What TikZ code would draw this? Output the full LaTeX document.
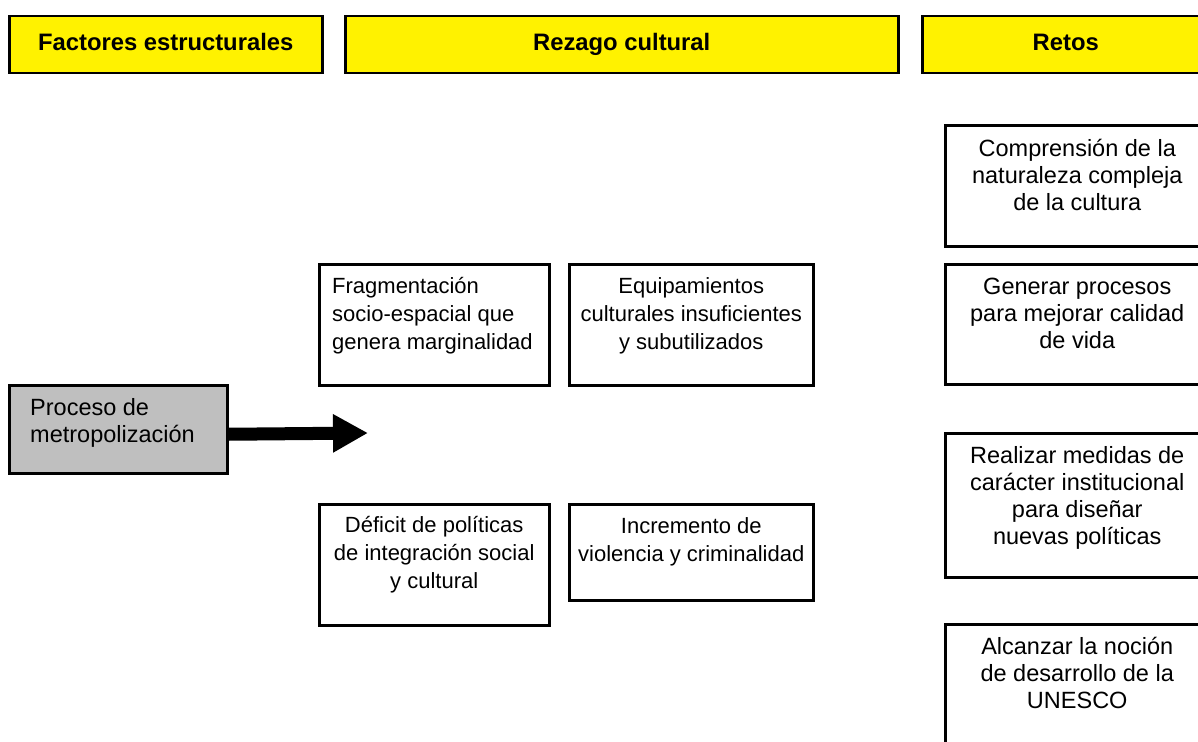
\documentclass[tikz,border=0pt]{standalone}
\usepackage{fontspec}
\setmainfont{Liberation Sans}
\usetikzlibrary{arrows.meta}
\tikzset{every picture/.append style={x=1pt, y=-1pt}}
\tikzset{
    hdr/.style={draw, line width=2.5pt, fill=yellow, anchor=north west,
    	minimum height=57pt, text height=17pt, text depth=5pt,
    	font=\bfseries\fontsize{23.8}{27}\selectfont},
    box/.style={draw, line width=2.5pt, anchor=north west, inner sep=0pt},
    txt/.style={anchor=north, inner sep=0pt, align=center,
    	font=\fontsize{23.5}{27}\selectfont},
    midtxt/.style={txt, font=\fontsize{22}{28}\selectfont},
    bigarrow/.style={line width=13pt, -{Triangle[length=35pt, width=36pt]}}
}

\begin{document}
\begin{tikzpicture}
	\clip (0,0) rectangle (1198,741);
	\node [hdr, minimum width=313pt] (fac) at (8,15) {Factores estructurales};
	\node [hdr, minimum width=553pt] (rez) at (344,15) {Rezago cultural};
	\node [hdr, minimum width=287pt] (ret) at (921,15) {Retos};
	\node [box, fill=black!25, minimum width=218pt, minimum height=88pt] (proc) at (8,384) {};
	\node [txt, align=left, anchor=north west] (proc-t) at ([xshift=22pt, yshift=-14pt]proc.north west) {Proceso de\\metropolización};
	\node [box, minimum width=230pt, minimum height=121pt] (frag) at (318,263) {};
	\node [midtxt, align=left, anchor=north west] (frag-t) at ([xshift=14pt, yshift=-14pt]frag.north west) {Fragmentación\\socio-espacial que\\genera marginalidad};
	\node [box, minimum width=244pt, minimum height=121pt] (equip) at (568,263) {};
	\node [midtxt] (equip-t) at ([yshift=-14pt]equip.north) {Equipamientos\\culturales insuficientes\\y subutilizados};
	\node [box, minimum width=230pt, minimum height=121pt] (def) at (318,503) {};
	\node [midtxt] (def-t) at ([yshift=-13pt]def.north) {Déficit de políticas\\de integración social\\y cultural};
	\node [box, minimum width=244pt, minimum height=96pt] (inc) at (568,503) {};
	\node [midtxt] (inc-t) at ([yshift=-14pt]inc.north) {Incremento de\\violencia y criminalidad};
	\node [box, minimum width=264pt, minimum height=121pt] (comp) at (944,124) {};
	\node [txt] (comp-t) at ([yshift=-15pt]comp.north) {Comprensión de la\\naturaleza compleja\\de la cultura};
	\node [box, minimum width=264pt, minimum height=120pt] (gen) at (944,263) {};
	\node [txt] (gen-t) at ([yshift=-15pt]gen.north) {Generar procesos\\para mejorar calidad\\de vida};
	\node [box, minimum width=264pt, minimum height=144pt] (real) at (944,432) {};
	\node [txt] (real-t) at ([yshift=-14pt]real.north) {Realizar medidas de\\carácter institucional\\para diseñar\\nuevas políticas};
	\node [box, minimum width=264pt, minimum height=140pt] (alc) at (944,623) {};
	\node [txt] (alc-t) at ([yshift=-14pt]alc.north) {Alcanzar la noción\\de desarrollo de la\\UNESCO};
	\coordinate (tip) at (368,433);
	\draw [bigarrow] ([yshift=-5pt]proc.east) -- (tip);
\end{tikzpicture}
\end{document}
